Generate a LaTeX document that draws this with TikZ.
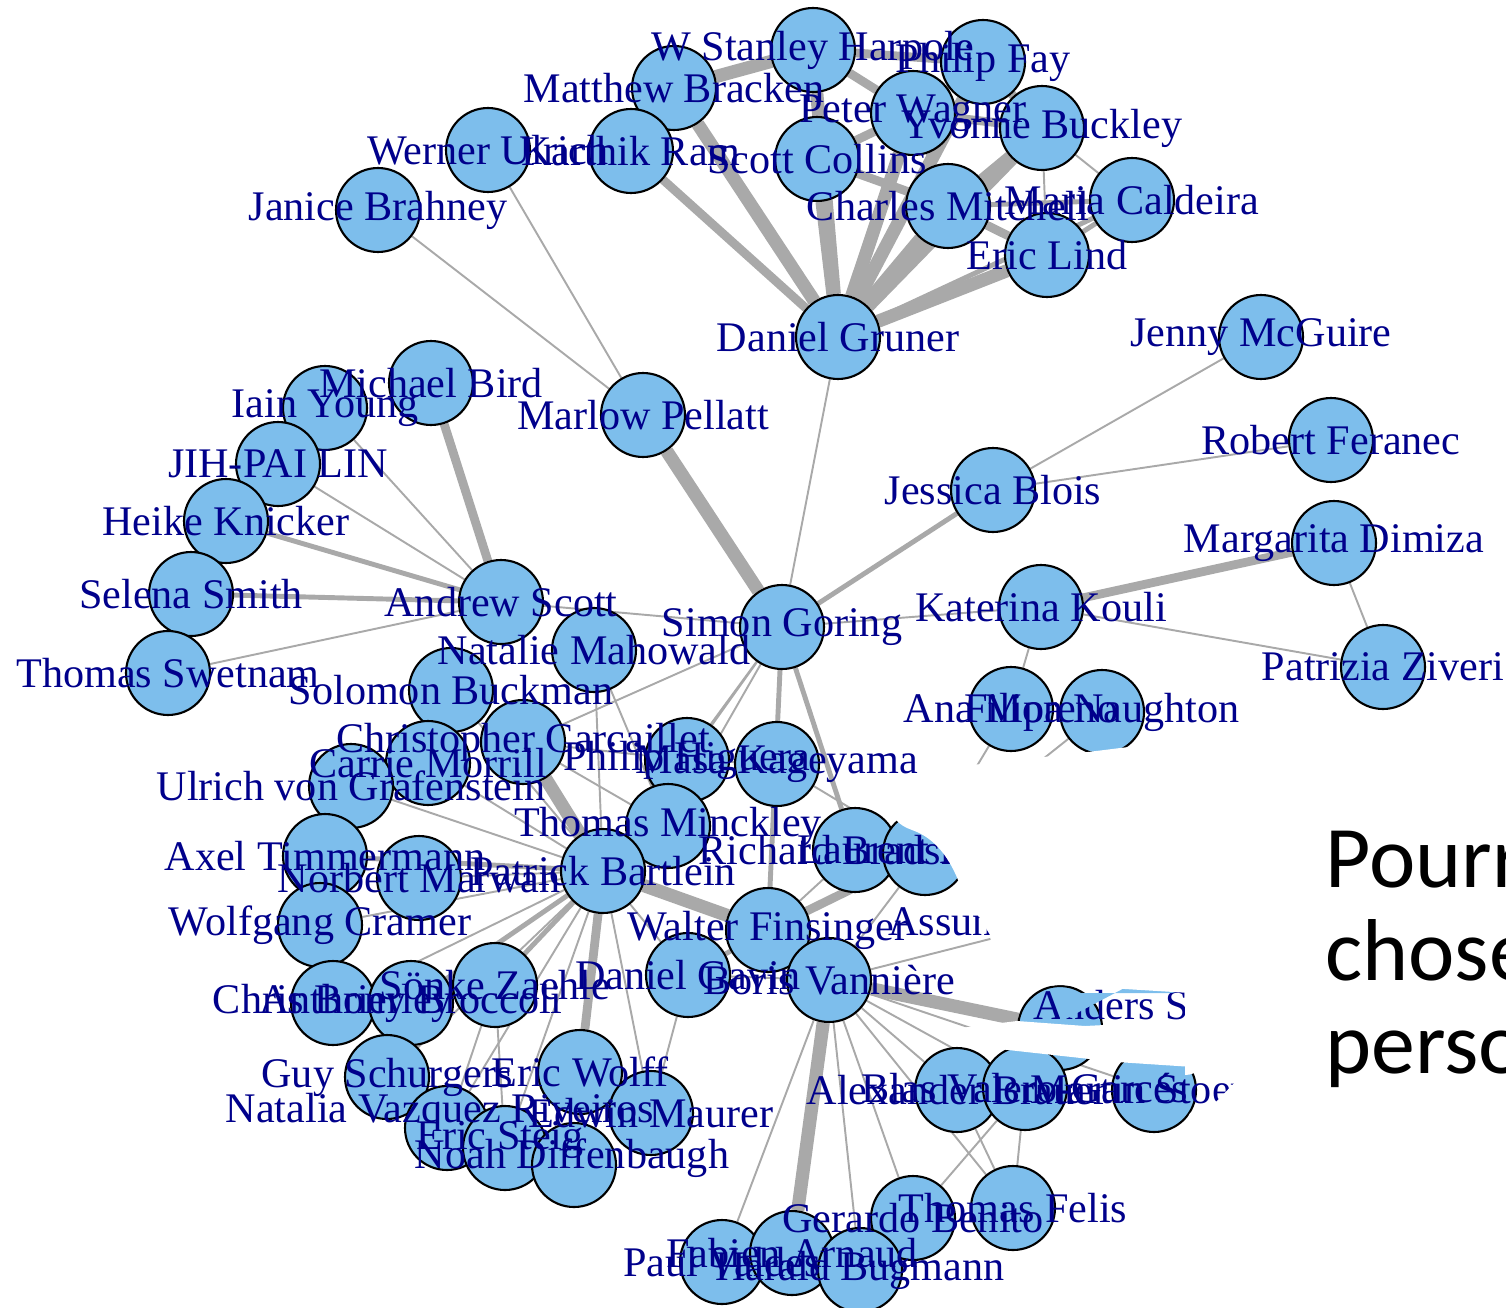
\documentclass[tikz,border=0pt]{standalone}
\usepackage{fontspec}
\setmainfont{Liberation Serif}
\newfontfamily\slidefont{Carlito}
\usepackage{tikz}
\usetikzlibrary{positioning}
\definecolor{vblue}{RGB}{125,190,236}
\definecolor{lblue}{RGB}{0,0,139}
\definecolor{egray}{RGB}{169,169,169}
\pgfdeclarelayer{edges}
\pgfsetlayers{edges,main}

\begin{document}
\begin{tikzpicture}[
  x=0.02cm, y=-0.02cm,
  vtx/.style={circle, draw=black, line width=1.2pt, fill=vblue, minimum size=1.68cm, inner sep=0pt},
  lbl/.style={text=lblue, font=\fontsize{24}{26}\selectfont, inner sep=0pt},
  e1/.style={draw=egray, line width=1.1pt},
  e2/.style={draw=egray, line width=2.8pt},
  e3/.style={draw=egray, line width=5pt},
  e4/.style={draw=egray, line width=7.5pt},
  cover/.style={fill=white, draw=none},
  slide/.style={anchor=base west, inner sep=0pt, font=\slidefont\fontsize{50}{56}\selectfont}
]
\useasboundingbox (0,0) rectangle (1506,1307);
\clip (0,0) rectangle (1506,1307);

% vertices
\node[vtx] (harpole)  at (813,50)   {};
\node[vtx] (bracken)  at (674,88)   {};
\node[vtx] (fay)      at (983,62)   {};
\node[vtx] (wagner)   at (913,113)  {};
\node[vtx] (buckley)  at (1042,128) {};
\node[vtx] (ram)      at (631,151)  {};
\node[vtx] (collins)  at (817,159)  {};
\node[vtx] (caldeira) at (1132,200) {};
\node[vtx] (mitchell) at (948,206)  {};
\node[vtx] (lind)     at (1047,255) {};
\node[vtx] (gruner)   at (838,337)  {};
\node[vtx] (ulrich)   at (488,150)  {};
\node[vtx] (brahney)  at (378,210)  {};
\node[vtx] (pellatt)  at (643,415)  {};
\node[vtx] (bird)     at (431,383)  {};
\node[vtx] (young)    at (325,408)  {};
\node[vtx] (lin)      at (278,464)  {};
\node[vtx] (knicker)  at (226,521)  {};
\node[vtx] (smith)    at (191,594)  {};
\node[vtx] (swetnam)  at (168,673)  {};
\node[vtx] (scott)    at (501,602)  {};
\node[vtx] (mahowald) at (594,650)  {};
\node[vtx] (goring)   at (782,627)  {};
\node[vtx] (mcguire)  at (1261,337) {};
\node[vtx] (feranec)  at (1331,440) {};
\node[vtx] (blois)    at (993,490)  {};
\node[vtx] (dimiza)   at (1334,543) {};
\node[vtx] (kouli)    at (1041,607) {};
\node[vtx] (ziveri)   at (1383,667) {};
\node[vtx] (moreno)   at (1011,709) {};
\node[vtx] (naughton) at (1102,712) {};
\node[vtx] (buckman)  at (451,690)  {};
\node[vtx] (carcaillet) at (523,742) {};
\node[vtx] (morrill)  at (428,763)  {};
\node[vtx] (grafenstein) at (351,786) {};
\node[vtx] (higuera)  at (687,760)  {};
\node[vtx] (kageyama) at (777,764)  {};
\node[vtx] (minckley) at (668,826)  {};
\node[vtx] (bradshaw) at (855,850)  {};
\node[vtx] (lund)     at (925,853)  {};
\node[vtx] (timmermann) at (325,856) {};
\node[vtx] (marwan)   at (419,878)  {};
\node[vtx] (bartlein) at (603,871)  {};
\node[vtx] (cramer)   at (320,925)  {};
\node[vtx] (assu)     at (1045,925) {};
\node[vtx] (finsinger) at (768,930) {};
\node[vtx] (gavin)    at (688,975)  {};
\node[vtx] (vanniere) at (829,980)  {};
\node[vtx] (zaehle)   at (495,985)  {};
\node[vtx] (brierley) at (333,1003) {};
\node[vtx] (broccoli) at (411,1003) {};
\node[vtx] (anders)   at (1060,1028) {};
\node[vtx] (schurgers) at (387,1077) {};
\node[vtx] (wolff)    at (580,1072) {};
\node[vtx] (vazquez)  at (447,1128) {};
\node[vtx] (maurer)   at (651,1113) {};
\node[vtx] (steig)    at (505,1148) {};
\node[vtx] (diffenbaugh) at (574,1165) {};
\node[vtx] (brauer)   at (957,1090) {};
\node[vtx] (valero)   at (1025,1088) {};
\node[vtx] (stoerer)  at (1154,1090) {};
\node[vtx] (benito)   at (913,1218) {};
\node[vtx] (felis)    at (1013,1208) {};
\node[vtx] (valdes)   at (722,1262) {};
\node[vtx] (arnaud)   at (792,1253) {};
\node[vtx] (bugmann)  at (860,1270) {};

% edges
\begin{pgfonlayer}{edges}
\draw[e4] (gruner) -- (bracken);
\draw[e4] (gruner) -- (collins);
\draw[e4] (gruner) -- (harpole);
\draw[e4] (gruner) -- (wagner);
\draw[e4] (gruner) -- (fay);
\draw[e4] (gruner) -- (buckley);
\draw[e4] (gruner) -- (mitchell);
\draw[e4] (gruner) -- (lind);
\draw[e3] (gruner) -- (ram);
\draw[e2] (gruner) -- (caldeira);
\draw[e4] (bracken) -- (harpole);
\draw[e2] (bracken) -- (ram);
\draw[e3] (harpole) -- (fay);
\draw[e3] (harpole) -- (wagner);
\draw[e2] (harpole) -- (collins);
\draw[e3] (collins) -- (wagner);
\draw[e3] (collins) -- (mitchell);
\draw[e3] (wagner) -- (buckley);
\draw[e2] (wagner) -- (fay);
\draw[e2] (wagner) -- (mitchell);
\draw[e3] (fay) -- (buckley);
\draw[e3] (mitchell) -- (buckley);
\draw[e3] (mitchell) -- (lind);
\draw[e2] (mitchell) -- (caldeira);
\draw[e1] (buckley) -- (lind);
\draw[e1] (buckley) -- (caldeira);
\draw[e2] (caldeira) -- (lind);
\draw[e1] (gruner) -- (goring);
\draw[e1] (ulrich) -- (pellatt);
\draw[e1] (brahney) -- (pellatt);
\draw[e4] (pellatt) -- (goring);
\draw[e2] (goring) -- (blois);
\draw[e1] (blois) -- (mcguire);
\draw[e1] (blois) -- (feranec);
\draw[e1] (goring) -- (kouli);
\draw[e3] (kouli) -- (dimiza);
\draw[e1] (kouli) -- (ziveri);
\draw[e1] (dimiza) -- (ziveri);
\draw[e1] (kouli) -- (moreno);
\draw[e1] (goring) -- (scott);
\draw[e3] (scott) -- (bird);
\draw[e1] (scott) -- (young);
\draw[e1] (scott) -- (lin);
\draw[e2] (scott) -- (knicker);
\draw[e2] (scott) -- (smith);
\draw[e1] (scott) -- (swetnam);
\draw[e1] (goring) -- (higuera);
\draw[e2] (goring) -- (finsinger);
\draw[e2] (goring) -- (bradshaw);
\draw[e1] (goring) -- (minckley);
\draw[e1] (goring) -- (kageyama);
\draw[e1] (goring) -- (bartlein);
\draw[e1] (goring) -- (carcaillet);
\draw[e4] (bartlein) -- (finsinger);
\draw[e4] (bartlein) -- (carcaillet);
\draw[e3] (bartlein) -- (wolff);
\draw[e2] (bartlein) -- (minckley);
\draw[e1] (bartlein) -- (mahowald);
\draw[e1] (bartlein) -- (buckman);
\draw[e1] (bartlein) -- (morrill);
\draw[e1] (bartlein) -- (grafenstein);
\draw[e2] (bartlein) -- (timmermann);
\draw[e1] (bartlein) -- (marwan);
\draw[e1] (bartlein) -- (cramer);
\draw[e2] (bartlein) -- (broccoli);
\draw[e1] (bartlein) -- (brierley);
\draw[e2] (bartlein) -- (zaehle);
\draw[e1] (bartlein) -- (schurgers);
\draw[e1] (bartlein) -- (vazquez);
\draw[e1] (bartlein) -- (steig);
\draw[e1] (bartlein) -- (maurer);
\draw[e1] (bartlein) -- (diffenbaugh);
\draw[e1] (bartlein) -- (higuera);
\draw[e1] (bartlein) -- (gavin);
\draw[e1] (carcaillet) -- (higuera);
\draw[e1] (carcaillet) -- (minckley);
\draw[e1] (higuera) -- (kageyama);
\draw[e1] (minckley) -- (higuera);
\draw[e1] (mahowald) -- (minckley);
\draw[e1] (kageyama) -- (lund);
\draw[e1] (kageyama) -- (finsinger);
\draw[e3] (lund) -- (finsinger);
\draw[e1] (lund) -- (vanniere);
\draw[e1] (lund) -- (moreno);
\draw[e1] (lund) -- (naughton);
\draw[e1] (bradshaw) -- (finsinger);
\draw[e1] (assu) -- (vanniere);
\draw[e1] (assu) -- (lund);
\draw[e4] (vanniere) -- (finsinger);
\draw[e4] (vanniere) -- (anders);
\draw[e4] (vanniere) -- (arnaud);
\draw[e1] (vanniere) -- (valdes);
\draw[e1] (vanniere) -- (bugmann);
\draw[e1] (vanniere) -- (benito);
\draw[e1] (vanniere) -- (felis);
\draw[e1] (vanniere) -- (brauer);
\draw[e1] (vanniere) -- (valero);
\draw[e1] (vanniere) -- (stoerer);
\draw[e1] (vanniere) -- (gavin);
\draw[e2] (gavin) -- (finsinger);
\draw[e1] (gavin) -- (maurer);
\draw[e1] (brauer) -- (felis);
\draw[e1] (valero) -- (benito);
\draw[e1] (valero) -- (felis);
\draw[e1] (zaehle) -- (steig);
\draw[e1] (zaehle) -- (vazquez);
\draw[e1] (broccoli) -- (zaehle);
\end{pgfonlayer}

% labels
\node[lbl] (harpole-t)  at (harpole)  {W Stanley Harpole};
\node[lbl] (bracken-t)  at (bracken)  {Matthew Bracken};
\node[lbl] (fay-t)      at (fay)      {Philip Fay};
\node[lbl] (wagner-t)   at (wagner)   {Peter Wagner};
\node[lbl] (buckley-t)  at (buckley)  {Yvonne Buckley};
\node[lbl] (ram-t)      at (ram)      {Karthik Ram};
\node[lbl] (collins-t)  at (collins)  {Scott Collins};
\node[lbl] (caldeira-t) at (caldeira) {Maria Caldeira};
\node[lbl] (mitchell-t) at (mitchell) {Charles Mitchell};
\node[lbl] (lind-t)     at (lind)     {Eric Lind};
\node[lbl] (gruner-t)   at (gruner)   {Daniel Gruner};
\node[lbl] (ulrich-t)   at (ulrich)   {Werner Ulrich};
\node[lbl] (brahney-t)  at (brahney)  {Janice Brahney};
\node[lbl] (pellatt-t)  at (pellatt)  {Marlow Pellatt};
\node[lbl] (bird-t)     at (bird)     {Michael Bird};
\node[lbl] (young-t)    at (young)    {Iain Young};
\node[lbl] (lin-t)      at (lin)      {JIH-PAI LIN};
\node[lbl] (knicker-t)  at (knicker)  {Heike Knicker};
\node[lbl] (smith-t)    at (smith)    {Selena Smith};
\node[lbl] (swetnam-t)  at (swetnam)  {Thomas Swetnam};
\node[lbl] (scott-t)    at (scott)    {Andrew Scott};
\node[lbl] (mahowald-t) at (mahowald) {Natalie Mahowald};
\node[lbl] (goring-t)   at (goring)   {Simon Goring};
\node[lbl] (mcguire-t)  at (mcguire)  {Jenny McGuire};
\node[lbl] (feranec-t)  at (feranec)  {Robert Feranec};
\node[lbl] (blois-t)    at (blois)    {Jessica Blois};
\node[lbl] (dimiza-t)   at (dimiza)   {Margarita Dimiza};
\node[lbl] (kouli-t)    at (kouli)    {Katerina Kouli};
\node[lbl] (ziveri-t)   at (ziveri)   {Patrizia Ziveri};
\node[lbl] (moreno-t)   at (moreno)   {Ana Moreno};
\node[lbl] (naughton-t) at (naughton) {Filipa Naughton};
\node[lbl] (buckman-t)  at (buckman)  {Solomon Buckman};
\node[lbl] (carcaillet-t) at (carcaillet) {Christopher Carcaillet};
\node[lbl] (morrill-t)  at (morrill)  {Carrie Morrill};
\node[lbl] (grafenstein-t) at (grafenstein) {Ulrich von Grafenstein};
\node[lbl] (higuera-t)  at (higuera)  {Philip Higuera};
\node[lbl] (kageyama-t) at (kageyama) {Masa Kageyama};
\node[lbl] (minckley-t) at (minckley) {Thomas Minckley};
\node[lbl] (bradshaw-t) at (bradshaw) {Richard Bradshaw};
\node[lbl] (lund-t)     at (lund)     {Laurent Bouby};
\node[lbl] (timmermann-t) at (timmermann) {Axel Timmermann};
\node[lbl] (marwan-t)   at (marwan)   {Norbert Marwan};
\node[lbl] (bartlein-t) at (bartlein) {Patrick Bartlein};
\node[lbl] (cramer-t)   at (cramer)   {Wolfgang Cramer};
\node[lbl, anchor=west] (assu-t) at (888,922) {Assunta};
\node[lbl] (finsinger-t) at (finsinger) {Walter Finsinger};
\node[lbl] (gavin-t)    at (gavin)    {Daniel Gavin};
\node[lbl] (vanniere-t) at (vanniere) {Boris Vannière};
\node[lbl] (zaehle-t)   at (zaehle)   {Sönke Zaehle};
\node[lbl] (brierley-t) at (brierley) {Chris Brierley};
\node[lbl] (broccoli-t) at (broccoli) {Anthony Broccoli};
\node[lbl, anchor=west] (anders-t) at (1033,1005) {Anders Svensson};
\node[lbl] (schurgers-t) at (schurgers) {Guy Schurgers};
\node[lbl] (wolff-t)    at (wolff)    {Eric Wolff};
\node[lbl] (vazquez-t)  at (440,1112) {Natalia Vazquez Riveiros};
\node[lbl] (maurer-t)   at (maurer)   {Edwin Maurer};
\node[lbl] (steig-t)    at (500,1140) {Eric Steig};
\node[lbl] (diffenbaugh-t) at (572,1158) {Noah Diffenbaugh};
\node[lbl] (brauer-t)   at (brauer)   {Alexander Brauer};
\node[lbl] (valero-t)   at (valero)   {Blas Valero-Garcés};
\node[lbl] (stoerer-t)  at (stoerer)  {Martin Stoerer};
\node[lbl] (benito-t)   at (benito)   {Gerardo Benito};
\node[lbl] (felis-t)    at (felis)    {Thomas Felis};
\node[lbl] (valdes-t)   at (valdes)   {Paul Valdes};
\node[lbl] (arnaud-t)   at (arnaud)   {Fabien Arnaud};
\node[lbl] (bugmann-t)  at (bugmann)  {Harald Bugmann};

% white shapes lying over the lower right part
\fill[vblue] (1060,993) -- (1170,993) arc[start angle=90, end angle=-90, radius=14.5] -- (1060,1022) -- cycle;
\path[cover] (945,768) -- (1080,753) -- (1185,740) -- (1400,735) -- (1400,993)
  -- (1190,993) -- (1060,985) -- (997,990) -- (990,935) -- (960,885)
  .. controls (950,858) and (935,838) .. (912,830)
  .. controls (898,825) and (893,818) .. (893,810) -- cycle;
\path[cover] (1185,985) -- (1400,985) -- (1400,1030) -- (1185,1030)
  arc[start angle=-90, end angle=90, radius=22.5];
\path[cover] (928,1032) -- (1017,1021) -- (1085,1026) -- (1183,1021) -- (1400,1015)
  -- (1400,1068) -- (1193,1067) -- (1117,1062) -- (990,1048) -- cycle;
\path[cover] (1193,1066) -- (1240,1077) -- (1214,1104) -- (1190,1113) -- (1184,1126)
  -- (1400,1140) -- (1400,1066) -- cycle;

% slide text
\node[slide] (line1) at (1325,887)  {Pourr};
\node[slide] (line2) at (1325,980)  {chose};
\node[slide] (line3) at (1325,1073) {perso};
\end{tikzpicture}
\end{document}
